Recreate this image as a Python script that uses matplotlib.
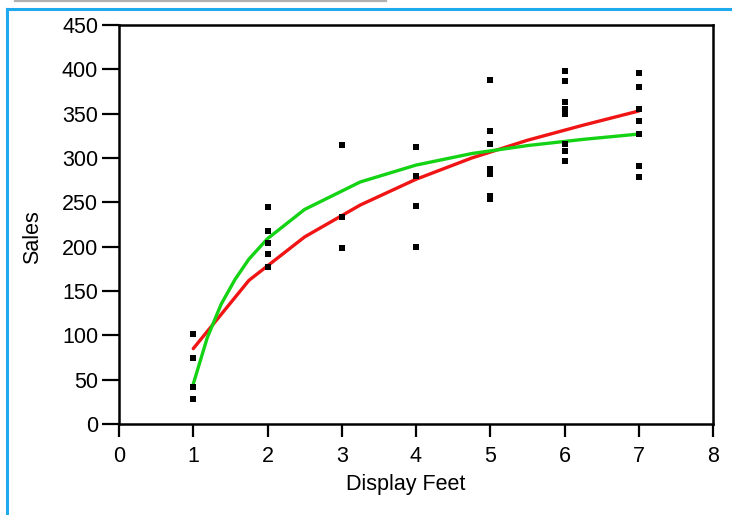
import matplotlib
matplotlib.use("Agg")
import matplotlib.pyplot as plt
from matplotlib.lines import Line2D

plt.rcParams['font.family'] = ['Liberation Sans', 'DejaVu Sans']

# ---- data ----
pts_x = [1, 1, 1, 1,
         2, 2, 2, 2, 2,
         3, 3, 3,
         4, 4, 4, 4,
         5, 5, 5, 5, 5, 5, 5,
         6, 6, 6, 6, 6, 6, 6, 6,
         7, 7, 7, 7, 7, 7, 7]
pts_y = [101, 74, 42, 28,
         245, 218, 204, 192, 177,
         315, 234, 198,
         312, 280, 246, 200,
         388, 330, 316, 288, 282, 257, 254,
         398, 387, 363, 355, 350, 316, 308, 297,
         396, 380, 355, 342, 327, 291, 279]

red_x = [1, 1.75, 2.5, 3.25, 4, 4.75, 5.5, 6.25, 7]
red_y = [85, 162, 211, 247, 276, 300, 320, 337, 353]

green_x = [1, 1.1875, 1.375, 1.5625, 1.75, 2, 2.5, 3.25, 4, 4.75, 5.5, 6.25, 7]
green_y = [45, 97, 135, 163, 186, 209, 242, 273, 292, 305, 314, 321, 327]

x_ticks = [0, 1, 2, 3, 4, 5, 6, 7, 8]
y_ticks = [0, 50, 100, 150, 200, 250, 300, 350, 400, 450]
x_label = "Display Feet"
y_label = "Sales"

# ---- figure ----
W, H = 732, 515
fig = plt.figure(figsize=(W / 100, H / 100), dpi=100)
fig.patch.set_facecolor('white')

ax = fig.add_axes([119 / W, 1 - 424 / H, (713 - 119) / W, (424 - 25) / H])

ax.plot(red_x, red_y, color='#f01414', lw=2.4, solid_capstyle='round', zorder=3)
ax.plot(green_x, green_y, color='#14d214', lw=2.4, solid_capstyle='round', zorder=4)
ax.plot(pts_x, pts_y, linestyle='none', marker='s', markersize=4.2,
        color='black', markeredgewidth=0, zorder=5)

ax.set_xlim(0, 8)
ax.set_ylim(0, 450)
ax.set_xticks(x_ticks)
ax.set_yticks(y_ticks)
ax.set_xticklabels([str(v) for v in x_ticks])
ax.set_yticklabels([str(v) for v in y_ticks])

for s in ax.spines.values():
    s.set_linewidth(1.8)
    s.set_color('black')

ax.tick_params(axis='x', direction='out', length=9.5, width=1.6, pad=6,
               labelsize=15.5, colors='black')
ax.tick_params(axis='y', direction='out', length=12, width=1.6, pad=3,
               labelsize=15.5, colors='black')

ax.set_xlabel(x_label, fontsize=15.5)
ax.set_ylabel(y_label, fontsize=15.5)
ax.xaxis.set_label_coords((406 - 119) / (713 - 119), (424 - 474) / (424 - 25))
ax.yaxis.set_label_coords((43 - 119) / (713 - 119), (424 - 237) / (424 - 25))

# ---- decorative frame of the page ----
fig.add_artist(Line2D([15 / W, 386 / W], [1 - 1 / H, 1 - 1 / H],
                      transform=fig.transFigure, color='#b0b0b0', lw=1.6))
fig.add_artist(Line2D([6.5 / W, 1.0], [1 - 8.5 / H, 1 - 8.5 / H],
                      transform=fig.transFigure, color='#1fa9ee', lw=2.2))
fig.add_artist(Line2D([6.5 / W, 6.5 / W], [0.0, 1 - 8.5 / H],
                      transform=fig.transFigure, color='#1fa9ee', lw=2.2))

fig.savefig('out.png', dpi=100, facecolor='white')
